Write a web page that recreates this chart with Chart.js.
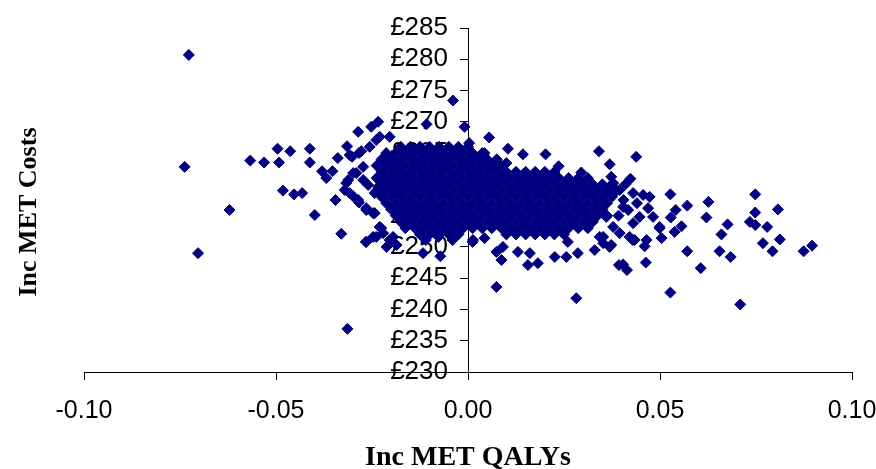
<!DOCTYPE html>
<html>
<head>
<meta charset="utf-8">
<script src="https://cdn.jsdelivr.net/npm/chart.js@4.4.1/dist/chart.umd.min.js"></script>
<style>
  html, body { margin: 0; padding: 0; background: #fff; }
  canvas { display: block; }
</style>
</head>
<body>
<canvas id="chart" width="876" height="469"></canvas>
<script>
// axis ticks
const xTicks = [-0.10, -0.05, 0.00, 0.05, 0.10];
const yTicks = [230, 235, 240, 245, 250, 255, 260, 265, 270, 275, 280, 285];

// scattered points, left of the cloud  [QALY, cost]
const leftPoints = [
  [-0.0727, 280.7], [-0.0738, 262.8], [-0.0703, 249.0], [-0.0621, 255.9],
  [-0.0567, 263.8], [-0.0531, 263.5], [-0.0496, 265.7], [-0.0463, 265.3],
  [-0.0492, 263.5], [-0.0482, 259.0], [-0.0453, 258.4], [-0.0432, 258.6],
  [-0.0412, 265.7], [-0.0412, 263.5], [-0.0399, 255.1], [-0.0380, 262.1],
  [-0.0369, 261.0], [-0.0353, 262.1], [-0.0345, 257.5], [-0.0339, 264.2],
  [-0.0330, 252.1], [-0.0315, 266.1], [-0.0314, 236.9], [-0.0286, 268.4],
  [-0.0265, 250.8], [-0.0252, 269.2], [-0.0234, 270.0], [-0.0256, 266.0],
  [-0.0239, 267.1], [-0.0302, 264.4], [-0.0284, 265.0], [-0.0317, 260.2],
  [-0.0299, 261.8], [-0.0308, 258.6], [-0.0284, 257.1], [-0.0265, 255.9],
  [-0.0243, 255.4], [-0.0273, 260.7], [-0.0260, 259.9], [-0.0239, 251.6],
  [-0.0226, 253.0], [-0.0212, 250.0], [-0.0195, 251.6], [-0.0204, 267.6],
  [-0.0230, 267.6], [-0.0108, 269.6], [-0.0039, 273.4], [-0.0009, 269.2],
  [-0.0117, 249.0], [-0.0072, 248.5], [0.0003, 266.6], [-0.0308, 264.7],
  [-0.0278, 265.3], [-0.0312, 260.7], [-0.0291, 261.8], [-0.0273, 262.8],
  [-0.0321, 259.1], [-0.0299, 258.1], [-0.0286, 257.5], [-0.0265, 256.2],
  [-0.0247, 255.4], [-0.0243, 258.6], [-0.0234, 259.6], [-0.0230, 253.2],
  [-0.0221, 252.2], [-0.0247, 251.6], [-0.0266, 250.8], [-0.0204, 251.1],
  [-0.0186, 250.3], [-0.0110, 251.1], [-0.0077, 251.6], [-0.0040, 251.1],
  [0.0012, 250.8]
];

// points around the top and bottom of the cloud
const edgePoints = [
  [0.0055, 267.5], [0.0104, 265.7], [0.0143, 264.8], [0.0202, 264.8],
  [0.0236, 262.9], [0.0341, 265.3], [0.0369, 263.2], [0.0295, 261.9],
  [0.0373, 261.2], [0.0043, 265.0], [0.0100, 263.4],
  [0.0013, 251.1], [0.0043, 251.4], [0.0074, 249.2], [0.0087, 247.9],
  [0.0091, 250.0], [0.0130, 249.2], [0.0156, 247.1], [0.0182, 247.4],
  [0.0161, 249.0], [0.0226, 248.4], [0.0256, 248.4], [0.0286, 249.0],
  [0.0260, 250.8], [0.0330, 249.5], [0.0373, 250.3], [0.0352, 251.6],
  [0.0074, 243.6], [0.0282, 241.8], [0.0393, 247.1]
];

// tail of the cloud and points to the right
const rightPoints = [
  [0.0438, 264.4], [0.0423, 260.9], [0.0527, 258.4], [0.0571, 256.6],
  [0.0541, 255.9], [0.0626, 257.2], [0.0621, 254.7], [0.0528, 254.7],
  [0.0556, 253.3], [0.0538, 252.4], [0.0676, 253.6], [0.0660, 252.0],
  [0.0571, 249.3], [0.0655, 249.3], [0.0684, 248.4], [0.0606, 246.6],
  [0.0748, 258.4], [0.0807, 256.0], [0.0748, 255.5], [0.0734, 254.0],
  [0.0748, 253.5], [0.0779, 253.2], [0.0812, 251.2], [0.0768, 250.6],
  [0.0793, 249.3], [0.0874, 249.3], [0.0896, 250.2], [0.0404, 247.2],
  [0.0414, 246.3], [0.0463, 247.5], [0.0527, 242.7], [0.0709, 240.8],
  [0.0499, 253.0], [0.0504, 251.4], [0.0369, 250.0], [0.0429, 251.1],
  [0.0460, 250.1], [0.0456, 258.3], [0.0473, 258.0], [0.0469, 256.2],
  [0.0482, 254.8], [0.0499, 253.2], [0.0465, 251.1], [0.0434, 251.1],
  [0.0430, 253.8], [0.0447, 254.8], [0.0417, 255.9], [0.0430, 258.6],
  [0.0404, 256.4], [0.0378, 253.2], [0.0360, 254.8], [0.0395, 252.2],
  [0.0421, 251.6], [0.0343, 251.6], [0.0352, 250.6], [0.0378, 260.2],
  [0.0395, 259.1], [0.0360, 259.1], [0.0405, 257.5], [0.0392, 255.0],
  [0.0410, 260.0], [0.0440, 257.0]
];

// dense core of the cloud, one list of QALY values per cost level
const coreCost = [266, 265, 264, 263, 262, 261, 260, 259, 258, 257, 256, 255, 254, 253, 252];
const coreQaly = [
  [-0.0175, -0.0150, -0.0125, -0.0100, -0.0075, -0.0050, -0.0025, 0.0000],
  [-0.0213, -0.0188, -0.0163, -0.0138, -0.0113, -0.0088, -0.0063, -0.0038, -0.0013, 0.0012, 0.0037],
  [-0.0225, -0.0200, -0.0175, -0.0150, -0.0125, -0.0100, -0.0075, -0.0050, -0.0025, 0.0000, 0.0025, 0.0050, 0.0075],
  [-0.0238, -0.0213, -0.0188, -0.0163, -0.0138, -0.0113, -0.0088, -0.0063, -0.0038, -0.0013, 0.0012, 0.0037, 0.0062, 0.0087],
  [-0.0225, -0.0200, -0.0175, -0.0150, -0.0125, -0.0100, -0.0075, -0.0050, -0.0025, 0.0000, 0.0025, 0.0050, 0.0075,
    0.0100, 0.0125, 0.0150, 0.0175, 0.0200, 0.0225],
  [-0.0238, -0.0213, -0.0188, -0.0163, -0.0138, -0.0113, -0.0088, -0.0063, -0.0038, -0.0013, 0.0012, 0.0037, 0.0062,
    0.0087, 0.0112, 0.0137, 0.0162, 0.0187, 0.0212, 0.0237, 0.0262, 0.0287, 0.0312],
  [-0.0225, -0.0200, -0.0175, -0.0150, -0.0125, -0.0100, -0.0075, -0.0050, -0.0025, 0.0000, 0.0025, 0.0050, 0.0075,
    0.0100, 0.0125, 0.0150, 0.0175, 0.0200, 0.0225, 0.0250, 0.0275, 0.0300, 0.0325, 0.0350, 0.0375],
  [-0.0238, -0.0213, -0.0188, -0.0163, -0.0138, -0.0113, -0.0088, -0.0063, -0.0038, -0.0013, 0.0012, 0.0037, 0.0062,
    0.0087, 0.0112, 0.0137, 0.0162, 0.0187, 0.0212, 0.0237, 0.0262, 0.0287, 0.0312, 0.0337, 0.0362, 0.0387],
  [-0.0225, -0.0200, -0.0175, -0.0150, -0.0125, -0.0100, -0.0075, -0.0050, -0.0025, 0.0000, 0.0025, 0.0050, 0.0075,
    0.0100, 0.0125, 0.0150, 0.0175, 0.0200, 0.0225, 0.0250, 0.0275, 0.0300, 0.0325, 0.0350, 0.0375],
  [-0.0213, -0.0188, -0.0163, -0.0138, -0.0113, -0.0088, -0.0063, -0.0038, -0.0013, 0.0012, 0.0037, 0.0062,
    0.0087, 0.0112, 0.0137, 0.0162, 0.0187, 0.0212, 0.0237, 0.0262, 0.0287, 0.0312, 0.0337, 0.0362],
  [-0.0200, -0.0175, -0.0150, -0.0125, -0.0100, -0.0075, -0.0050, -0.0025, 0.0000, 0.0025, 0.0050, 0.0075,
    0.0100, 0.0125, 0.0150, 0.0175, 0.0200, 0.0225, 0.0250, 0.0275, 0.0300, 0.0325, 0.0350],
  [-0.0188, -0.0163, -0.0138, -0.0113, -0.0088, -0.0063, -0.0038, -0.0013, 0.0012, 0.0037, 0.0062,
    0.0087, 0.0112, 0.0137, 0.0162, 0.0187, 0.0212, 0.0237, 0.0262, 0.0287, 0.0312, 0.0337, 0.0362],
  [-0.0175, -0.0150, -0.0125, -0.0100, -0.0075, -0.0050, -0.0025, 0.0000, 0.0025, 0.0050, 0.0075,
    0.0100, 0.0125, 0.0150, 0.0175, 0.0200, 0.0225, 0.0250, 0.0275, 0.0300, 0.0325],
  [-0.0163, -0.0138, -0.0113, -0.0088, -0.0063, -0.0038, -0.0013, 0.0012, 0.0037, 0.0062,
    0.0087, 0.0112, 0.0137, 0.0162, 0.0187, 0.0212, 0.0237, 0.0262, 0.0287, 0.0312],
  [-0.0125, -0.0100, -0.0075, -0.0050, -0.0025, 0.0100, 0.0125, 0.0150, 0.0175, 0.0200, 0.0225, 0.0250]
];

// build the scatter data
const points = [];
coreQaly.forEach((row, i) => row.forEach(x => points.push({ x: x, y: coreCost[i] })));
leftPoints.concat(edgePoints, rightPoints).forEach(p => points.push({ x: p[0], y: p[1] }));

const navy = '#000080';

// move the cost axis so it crosses the QALY axis at zero
// (left edge kept wide so the tick labels are not clipped)
const crossAtZero = {
  id: 'crossAtZero',
  afterLayout(chart) {
    const px = chart.scales.x.getPixelForValue(0);
    chart.scales.y.left = px - 120;
    chart.scales.y.right = px;
  }
};

// y axis title sits at the far left, not next to the centred axis
const yTitle = {
  id: 'yTitle',
  afterDraw(chart) {
    const ctx = chart.ctx;
    ctx.save();
    ctx.translate(36, 212);
    ctx.rotate(-Math.PI / 2);
    ctx.font = 'bold 26px "Liberation Serif", "Times New Roman", serif';
    ctx.fillStyle = '#000';
    ctx.textAlign = 'center';
    ctx.fillText('Inc MET Costs', 0, 0);
    ctx.restore();
  }
};

const ctx = document.getElementById('chart').getContext('2d');
new Chart(ctx, {
  type: 'scatter',
  data: {
    datasets: [{
      label: 'Inc MET',
      data: points,
      pointStyle: 'rectRot',
      pointRadius: 5.5,
      pointBorderWidth: 1,
      backgroundColor: navy,
      borderColor: navy,
      pointHoverRadius: 5.5
    }]
  },
  options: {
    responsive: false,
    animation: false,
    events: [],
    layout: { padding: { left: 84, right: 24, top: 28, bottom: 0 } },
    plugins: {
      legend: { display: false },
      tooltip: { enabled: false }
    },
    scales: {
      x: {
        type: 'linear',
        position: 'bottom',
        min: -0.1,
        max: 0.1,
        afterBuildTicks: s => { s.ticks = xTicks.map(v => ({ value: v })); },
        afterFit: s => { s.height = 97; s.paddingLeft = 0; s.paddingRight = 0; },
        border: { color: '#000', width: 1 },
        grid: { drawOnChartArea: false, drawTicks: true, tickLength: 8, color: '#000' },
        ticks: {
          color: '#000',
          font: { family: '"Liberation Sans", Arial, sans-serif', size: 25 },
          padding: 16,
          maxRotation: 0,
          autoSkip: false,
          callback: v => v.toFixed(2)
        },
        title: {
          display: true,
          text: 'Inc MET QALYs',
          color: '#000',
          font: { family: '"Liberation Serif", "Times New Roman", serif', size: 28, weight: 'bold', lineHeight: 1 },
          padding: { top: 0, bottom: -3 }
        }
      },
      y: {
        type: 'linear',
        position: 'left',
        min: 230,
        max: 285,
        z: 1,
        afterBuildTicks: s => { s.ticks = yTicks.map(v => ({ value: v })); },
        afterFit: s => { s.width = 0; },
        border: { color: '#000', width: 1 },
        grid: { drawOnChartArea: false, drawTicks: true, tickLength: 8, color: '#000' },
        ticks: {
          color: '#000',
          font: { family: '"Liberation Sans", Arial, sans-serif', size: 26 },
          padding: 12,
          autoSkip: false,
          callback: v => '£' + v
        }
      }
    }
  },
  plugins: [crossAtZero, yTitle]
});
</script>
</body>
</html>
